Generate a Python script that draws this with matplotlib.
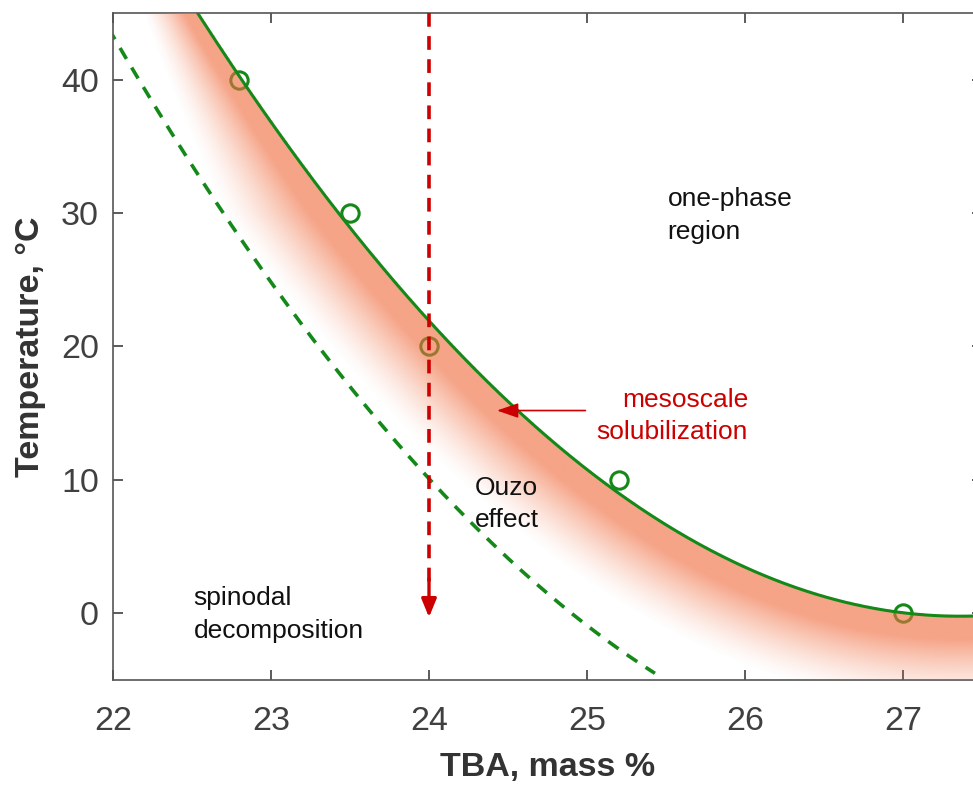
import numpy as np
import matplotlib
matplotlib.use("Agg")
import matplotlib.pyplot as plt

plt.rcParams['font.family'] = ['Liberation Sans', 'DejaVu Sans']

# ---- data ----
exp_x = [22.8, 23.5, 24.0, 25.2, 27.0]
exp_y = [40, 30, 20, 10, 0]

binodal_x = [22.53, 23.0, 23.5, 24.0, 24.5, 25.0, 25.5, 26.0, 26.5, 27.0, 27.45]
binodal_y = [45.0, 37.0, 28.9, 21.9, 15.8, 10.8, 6.6, 3.5, 1.25, 0.1, -0.25]

spinodal_x = [21.9, 22.0, 22.5, 23.0, 23.5, 24.0, 24.5, 25.0, 25.43]
spinodal_y = [45.3, 43.3, 33.6, 24.8, 17.0, 10.1, 4.1, -0.9, -4.5]

xticks = [22, 23, 24, 25, 26, 27]
yticks = [0, 10, 20, 30, 40]

GREEN = '#14891a'
RED = '#cc0000'
SHADE = (240/255, 108/255, 62/255)

XMAX = 27.5
W, H = 973, 789
fig = plt.figure(figsize=(W/100, H/100), dpi=100)
ax = fig.add_axes([113/W, 1-680/H, 869/W, 667/H])
ax.set_xlim(22, XMAX)
ax.set_ylim(-5, 45)

# smooth binodal (cubic fit to curve points)
cb = np.polyfit(binodal_x, binodal_y, 3)
bx = np.linspace(22.3, XMAX + 0.1, 500)
by = np.polyval(cb, bx)
cs = np.polyfit(spinodal_x, spinodal_y, 2)
sx = np.linspace(21.9, 25.43, 300)
sy = np.polyval(cs, sx)

# ---- shaded gradient region below/left of the binodal ----
fig.canvas.draw()
T = ax.transData
cpx = T.transform(np.column_stack([bx, by]))
nx, ny = 300, 360
gx = np.linspace(22, XMAX, nx)
gy = np.linspace(-5, 45, ny)
GX, GY = np.meshgrid(gx, gy)
P = T.transform(np.column_stack([GX.ravel(), GY.ravel()])).reshape(ny, nx, 2)
dist = np.empty((ny, nx), dtype=np.float32)
for i in range(ny):
    dx = P[i, :, 0][:, None] - cpx[None, :, 0]
    dy = P[i, :, 1][:, None] - cpx[None, :, 1]
    dist[i] = np.sqrt((dx*dx + dy*dy).min(axis=1))
below = GY < np.polyval(cb, GX)
Wd = np.where(GY > 30, 92 - (GY - 30) * 3.0, 92.0)
t = np.clip(1 - dist / Wd, 0, 1)
a = np.minimum(1.0, 1.35 * t) ** 1.4 * below * 0.62
img = np.zeros((ny, nx, 4))
img[..., :3] = SHADE
img[..., 3] = a
ax.imshow(img, extent=(22, XMAX, -5, 45), origin='lower', aspect='auto',
          interpolation='bilinear', zorder=3)

# ---- lines and markers ----
ax.plot(exp_x, exp_y, 'o', ms=12.5, mfc='none', mec=GREEN, mew=2.2, zorder=2)
ax.plot(bx, by, '-', color=GREEN, lw=2.2, zorder=4)
ax.plot(sx, sy, '--', color=GREEN, lw=2.6, dashes=(3.5, 2.8), zorder=4)

# red dashed vertical arrow
ax.plot([24, 24], [45, 2.2], '--', color=RED, lw=2.6, dashes=(3.8, 2.6), zorder=5)
ax.annotate('', xy=(24, -0.3), xytext=(24, 2.6),
            arrowprops=dict(arrowstyle='-|>,head_length=1.1,head_width=0.45',
                            color=RED, lw=2.4, shrinkA=0, shrinkB=0), zorder=5)

# mesoscale arrow
ax.annotate('', xy=(24.43, 15.2), xytext=(24.99, 15.2),
            arrowprops=dict(arrowstyle='-|>,head_length=1.3,head_width=0.45',
                            color=RED, lw=1.2, shrinkA=0, shrinkB=0), zorder=5)

# ---- texts ----
tk = dict(fontsize=19, color='#111111', linespacing=1.45, zorder=6)
ax.text(25.51, 29.8, 'one-phase\nregion', ha='left', va='center', **tk)
ax.text(24.29, 8.2, 'Ouzo\neffect', ha='left', va='center', **tk)
ax.text(22.51, -0.1, 'spinodal\ndecomposition', ha='left', va='center', **tk)
ax.text(26.02, 14.8, 'mesoscale\nsolubilization', ha='right', va='center',
        fontsize=19, color=RED, linespacing=1.45, zorder=6)

# ---- axes styling ----
ax.set_xticks(xticks)
ax.set_yticks(yticks)
ax.tick_params(direction='in', length=7, width=1.2, top=True, right=True,
               labelsize=24.5, colors='#404040')
ax.tick_params(axis='x', pad=18.5)
ax.tick_params(axis='y', pad=10)
for s in ax.spines.values():
    s.set_color('#555555')
    s.set_linewidth(1.2)
ax.set_xlabel('TBA, mass %', fontsize=24.5, fontweight='bold', color='#333333', labelpad=11)
ax.set_ylabel('Temperature, °C', fontsize=24.5, fontweight='bold', color='#333333', labelpad=11)

fig.savefig('out.png', dpi=100)
